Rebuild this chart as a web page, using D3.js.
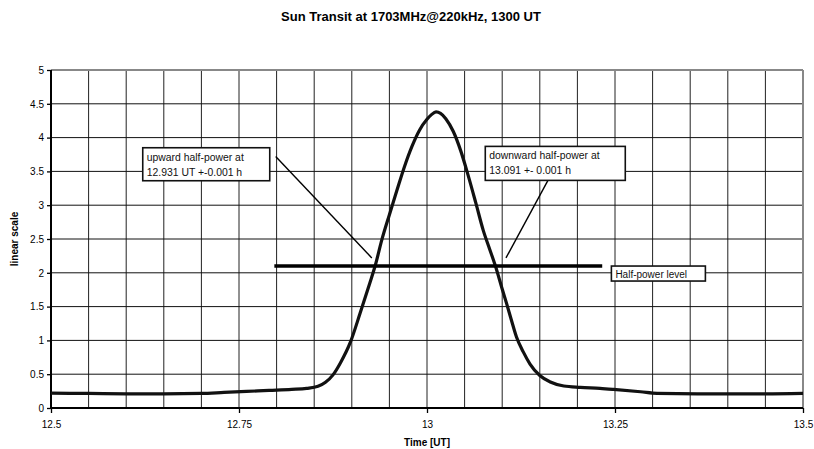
<!DOCTYPE html>
<html>
<head>
<meta charset="utf-8">
<script src="https://cdn.jsdelivr.net/npm/d3@7"></script>
<style>
  html, body { margin: 0; padding: 0; background: #fff; }
  svg { display: block; font-family: Arial, "Liberation Sans", sans-serif; }
</style>
</head>
<body>
<svg id="chart" width="814" height="449"></svg>
<script>
// Receiver output during the sun transit (time in UT hours, linear power units)
const times = [12.5, 12.55, 12.6, 12.65, 12.7, 12.73, 12.76, 12.79, 12.82, 12.84, 12.855, 12.865, 12.875,
  12.885, 12.898, 12.911, 12.924, 12.931, 12.94, 12.95, 12.96, 12.97, 12.98, 12.99, 13.0, 13.006,
  13.012, 13.018, 13.025, 13.035, 13.045, 13.055, 13.065, 13.075, 13.083, 13.091, 13.1, 13.106,
  13.112, 13.119, 13.128, 13.137, 13.15, 13.164, 13.182, 13.204, 13.23, 13.248, 13.284, 13.306,
  13.36, 13.45, 13.5];
const power = [0.22, 0.215, 0.21, 0.21, 0.215, 0.23, 0.245, 0.26, 0.275, 0.29, 0.32, 0.38, 0.49,
  0.67, 0.97, 1.4, 1.85, 2.1, 2.49, 2.86, 3.22, 3.57, 3.87, 4.11, 4.27, 4.34,
  4.38, 4.36, 4.28, 4.09, 3.8, 3.43, 3.03, 2.62, 2.36, 2.1, 1.76, 1.54,
  1.31, 1.05, 0.83, 0.65, 0.48, 0.385, 0.325, 0.305, 0.29, 0.275, 0.24, 0.217,
  0.21, 0.21, 0.217];

// Half-power level and its drawn extent
const halfPower = 2.1;
const halfPowerSpan = [12.797, 13.233];

// Axis ticks
const xTicks = [12.5, 12.75, 13, 13.25, 13.5];
const xTickLabels = ["12.5", "12.75", "13", "13.25", "13.5"];
const yTicks = [0, 0.5, 1, 1.5, 2, 2.5, 3, 3.5, 4, 4.5, 5];
const yTickLabels = ["0", "0.5", "1", "1.5", "2", "2.5", "3", "3.5", "4", "4.5", "5"];

// Text callouts
const calloutLines = [
  ["upward half-power at", "12.931 UT +-0.001 h"],
  ["downward half-power at", "13.091 +- 0.001 h"]
];
const levelLabel = "Half-power level";

const svg = d3.select("#chart");
const margin = { top: 70, right: 11, bottom: 41, left: 51 };
const W = 814, H = 449;
const iw = W - margin.left - margin.right;
const ih = H - margin.top - margin.bottom;

const x = d3.scaleLinear().domain([12.5, 13.5]).range([margin.left, margin.left + iw]);
const y = d3.scaleLinear().domain([0, 5]).range([margin.top + ih, margin.top]);

// Title
svg.append("text")
  .attr("x", 411).attr("y", 21)
  .attr("text-anchor", "middle")
  .style("font-size", "13px").style("font-weight", "bold")
  .text("Sun Transit at 1703MHz@220kHz, 1300 UT");

// Grid
const g = svg.append("g");
const gridX = d3.range(0, 21).map(i => 12.5 + i * 0.05);
g.selectAll("line.vx").data(gridX.slice(1, -1)).join("line")
  .attr("x1", d => x(d)).attr("x2", d => x(d))
  .attr("y1", y(0)).attr("y2", y(5))
  .attr("stroke", "#222").attr("stroke-width", 1);
g.selectAll("line.hy").data(yTicks.slice(1, -1)).join("line")
  .attr("x1", x(12.5)).attr("x2", x(13.5))
  .attr("y1", d => y(d)).attr("y2", d => y(d))
  .attr("stroke", "#111").attr("stroke-width", 1);

// Frame: top/right light, left/bottom dark axes
g.append("line").attr("x1", x(12.5)).attr("x2", x(13.5)).attr("y1", y(5)).attr("y2", y(5))
  .attr("stroke", "#888").attr("stroke-width", 2);
g.append("line").attr("x1", x(13.5)).attr("x2", x(13.5)).attr("y1", y(0)).attr("y2", y(5))
  .attr("stroke", "#888").attr("stroke-width", 2);

// Axes
const yAxis = d3.axisLeft(y).tickValues(yTicks).tickSize(4).tickPadding(3)
  .tickFormat((d, i) => yTickLabels[i]);
const gy = svg.append("g").attr("transform", `translate(${x(12.5)},0)`).call(yAxis);
const xAxis = d3.axisBottom(x).tickValues(xTicks).tickSize(5).tickPadding(8)
  .tickFormat((d, i) => xTickLabels[i]);
const gx = svg.append("g").attr("transform", `translate(0,${y(0)})`).call(xAxis);
[gx, gy].forEach(a => {
  a.select(".domain").attr("stroke", "#000").attr("stroke-width", 2);
  a.selectAll(".tick line").attr("stroke", "#000").attr("stroke-width", 1.3);
  a.selectAll(".tick text").style("font-size", "10px").attr("fill", "#000")
    .style("font-family", "Arial, 'Liberation Sans', sans-serif");
});
gx.select(".domain").attr("d", `M${x(12.5)},0H${x(13.5)}`);
gy.select(".domain").attr("d", `M0,${y(0)}V${y(5)}`);

// Axis titles
svg.append("text")
  .attr("transform", `translate(18,${(y(0) + y(5)) / 2}) rotate(-90)`)
  .attr("text-anchor", "middle")
  .style("font-size", "10px").style("font-weight", "bold")
  .text("linear scale");
svg.append("text")
  .attr("x", x(13)).attr("y", 446)
  .attr("text-anchor", "middle")
  .style("font-size", "10px").style("font-weight", "bold")
  .text("Time [UT]");

// Transit curve
const line = d3.line().x(d => x(d[0])).y(d => y(d[1])).curve(d3.curveMonotoneX);
svg.append("path")
  .datum(times.map((t, i) => [t, power[i]]))
  .attr("d", line)
  .attr("fill", "none").attr("stroke", "#111").attr("stroke-width", 3.2)
  .attr("stroke-linejoin", "round");

// Half-power level line
svg.append("line")
  .attr("x1", x(halfPowerSpan[0])).attr("x2", x(halfPowerSpan[1]))
  .attr("y1", y(halfPower)).attr("y2", y(halfPower))
  .attr("stroke", "#000").attr("stroke-width", 3.5);

// Leader lines from callouts to the crossings
const leaders = [
  { from: [12.7988, 3.72], to: [12.9266, 2.22] },
  { from: [13.179, 3.74], to: [13.105, 2.22] }
];
svg.selectAll("line.leader").data(leaders).join("line")
  .attr("x1", d => x(d.from[0])).attr("y1", d => y(d.from[1]))
  .attr("x2", d => x(d.to[0])).attr("y2", d => y(d.to[1]))
  .attr("stroke", "#000").attr("stroke-width", 1.4);

// Callout boxes (anchored at their top-left corner in data units)
const boxes = [
  { at: [12.622, 3.85], w: 127, h: 33, lines: calloutLines[0] },
  { at: [13.0775, 3.87], w: 140, h: 34, lines: calloutLines[1] }
];
boxes.forEach(b => {
  const bx = x(b.at[0]), by = y(b.at[1]);
  svg.append("rect").attr("x", bx).attr("y", by).attr("width", b.w).attr("height", b.h)
    .attr("fill", "#fff").attr("stroke", "#111").attr("stroke-width", 1.6);
  b.lines.forEach((s, i) => {
    svg.append("text").attr("x", bx + 4).attr("y", by + 13 + i * 15)
      .style("font-size", "10.4px").attr("fill", "#111").text(s);
  });
});

// Half-power level label
const lx = x(13.2452), ly = y(halfPower);
svg.append("rect").attr("x", lx).attr("y", ly).attr("width", 94).attr("height", 15)
  .attr("fill", "#fff").attr("stroke", "#111").attr("stroke-width", 1.6);
svg.append("text").attr("x", lx + 4).attr("y", ly + 11.5)
  .style("font-size", "10px").attr("fill", "#111").text(levelLabel);
</script>
</body>
</html>
